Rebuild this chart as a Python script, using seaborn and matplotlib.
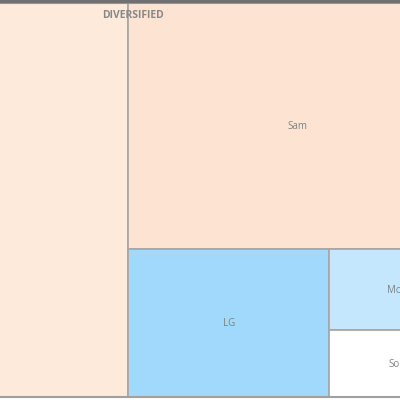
import matplotlib
matplotlib.use("Agg")
import matplotlib.pyplot as plt
from matplotlib.patches import Rectangle
import seaborn as sns

# treemap data (area units, group "DIVERSIFIED")
group_name = "DIVERSIFIED"
names = ["Other", "Sam", "LG", "Motorola", "Sony"]
values = [128838, 82810, 29748, 11097, 9179]
colors = ["#fdeadb", "#fde4d2", "#a0d9fb", "#c4e7fd", "#ffffff"]
shown = ["", "Sam", "LG", "Mo...", "So..."]

sns.set_theme(style="white")
plt.rcParams['font.family'] = ['Open Sans', 'DejaVu Sans']


def slice_layout(vals, x, y, w, h):
    # alternate vertical / horizontal slices, like the original layout
    rects = []
    rest = float(sum(vals))
    vertical = True
    for i, v in enumerate(vals):
        if i == len(vals) - 1:
            rects.append((x, y, w, h))
            break
        f = v / rest
        if vertical:
            rects.append((x, y, w * f, h))
            x, w = x + w * f, w * (1 - f)
        else:
            rects.append((x, y, w, h * f))
            y, h = y + h * f, h * (1 - f)
        rest -= v
        vertical = not vertical
    return rects


fig = plt.figure(figsize=(4, 4), dpi=100)
ax = fig.add_axes([0, 0, 1, 1])

gx, gy, gw, gh = -200, 3, 666, 394
rects = slice_layout(values, gx, gy, gw, gh)
for (x, y, w, h), c, lab in zip(rects, colors, shown):
    ax.add_patch(Rectangle((x, y), w, h, facecolor=c, edgecolor="#a8a8a8", lw=1.3))
    if lab:
        ax.text(x + w / 2 + 1, y + h / 2 + 1, lab, ha="center", va="center",
                fontsize=7, color="#808080", clip_on=True)

ax.add_patch(Rectangle((gx, gy), gw, gh, facecolor="none", edgecolor="#a0a0a0", lw=1.5))
ax.axhline(1.2, color="#707070", lw=2.5)
ax.text(gx + gw / 2, 15, group_name, ha="center", va="center",
        fontsize=7.5, fontweight="bold", color="#888888")

ax.set_xlim(0, 400)
ax.set_ylim(400, 0)
ax.axis("off")

fig.savefig("out.png", dpi=100)
